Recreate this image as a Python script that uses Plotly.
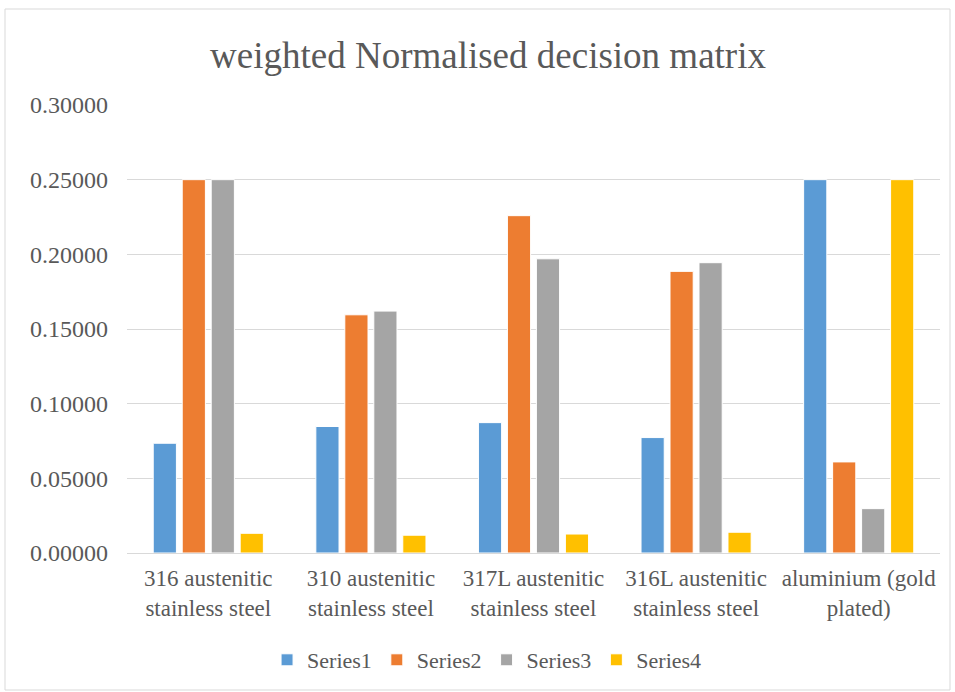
import plotly.graph_objects as go

categories = ["316 austenitic<br>stainless steel", "310 austenitic<br>stainless steel",
              "317L austenitic<br>stainless steel", "316L austenitic<br>stainless steel",
              "aluminium (gold<br>plated)"]
series1 = [0.0735, 0.0847, 0.0873, 0.0773, 0.2500]
series2 = [0.2500, 0.1595, 0.2259, 0.1886, 0.0610]
series3 = [0.2500, 0.1620, 0.1970, 0.1944, 0.0297]
series4 = [0.0132, 0.0119, 0.0127, 0.0139, 0.2500]
names = ["Series1", "Series2", "Series3", "Series4"]
colors = ["#5B9BD5", "#ED7D31", "#A5A5A5", "#FFC000"]

fig = go.Figure()
for name, vals, col in zip(names, [series1, series2, series3, series4], colors):
    fig.add_trace(go.Bar(x=categories, y=vals, name=name, marker_color=col,
                         marker_line=dict(color="white", width=1)))

font = "Liberation Serif"
fig.update_layout(
    width=955, height=692,
    margin=dict(l=127, r=15, t=105, b=139),
    paper_bgcolor="white", plot_bgcolor="white",
    barmode="group", bargap=0.287, bargroupgap=0.2,
    font=dict(family=font, color="#595959", size=24),
    title=dict(text="weighted Normalised decision matrix", x=0.511, xanchor="center",
               y=1 - 55 / 692, yanchor="middle", xref="container", yref="container",
               font=dict(family=font, size=37, color="#595959")),
    legend=dict(orientation="h", xref="container", yref="container",
                x=0.51, xanchor="center", y=1 - 660 / 692, yanchor="middle",
                font=dict(family=font, size=22, color="#595959"), itemwidth=30,
                traceorder="normal"),
    xaxis=dict(showgrid=False, showline=False, ticks="", ticklabelstandoff=9,
               tickfont=dict(family=font, size=23, color="#595959")),
    yaxis=dict(range=[0, 0.30], dtick=0.05, tickformat=".5f", showgrid=True,
               gridcolor="#D9D9D9", gridwidth=1, zeroline=True, zerolinecolor="#D9D9D9",
               zerolinewidth=1, showline=False, ticks="", ticklabelstandoff=18,
               tickfont=dict(family=font, size=24, color="#595959")),
)
fig.add_shape(type="rect", xref="paper", yref="paper",
              x0=(5 - 127) / 813, x1=(950 - 127) / 813,
              y0=(553 - 690) / 448, y1=(553 - 9) / 448,
              line=dict(color="#D9D9D9", width=1), fillcolor="rgba(0,0,0,0)", layer="below")
fig.write_html("out.html", config={"displayModeBar": False},
               post_script="document.body.style.margin='0';")
